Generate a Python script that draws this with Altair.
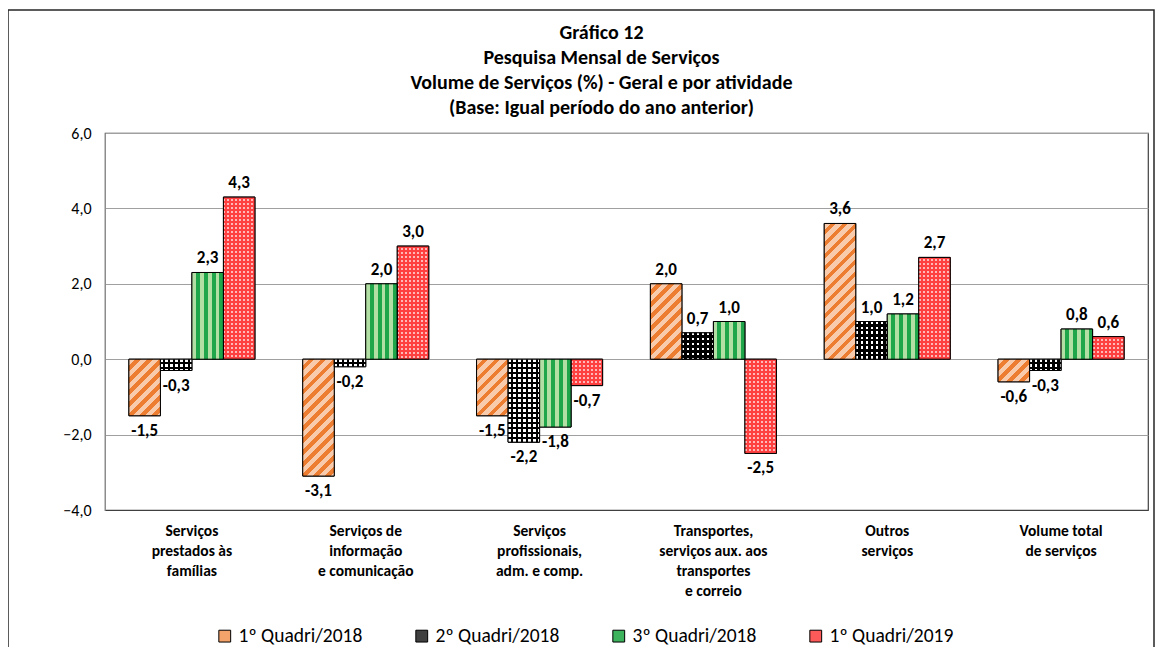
import math
import altair as alt

# ---------------- data ----------------
categories = [
    "Serviços|prestados às|famílias",
    "Serviços de|informação|e comunicação",
    "Serviços|profissionais,|adm. e comp.",
    "Transportes,|serviços aux. aos|transportes|e correio",
    "Outros|serviços",
    "Volume total|de serviços",
]
series = ["1º Quadri/2018", "2º Quadri/2018", "3º Quadri/2018", "1º Quadri/2019"]
v_q1_2018 = [-1.5, -3.1, -1.5, 2.0, 3.6, -0.6]
v_q2_2018 = [-0.3, -0.2, -2.2, 0.7, 1.0, -0.3]
v_q3_2018 = [2.3, 2.0, -1.8, 1.0, 1.2, 0.8]
v_q1_2019 = [4.3, 3.0, -0.7, -2.5, 2.7, 0.6]
y_ticks = [-4, -2, 0, 2, 4, 6]
values_by_series = [v_q1_2018, v_q2_2018, v_q3_2018, v_q1_2019]

legend_colors = ["#F4A36A", "#404040", "#3DB35E", "#FF5A5A"]

FONT = "Carlito, Lato, 'Liberation Sans', sans-serif"
PLOT_W, PLOT_H = 1043, 377
PX_PER_UNIT = PLOT_H / 10.0     # used only to size pattern stripes
BAR_W = PLOT_W / 6 * (1 - 0.275) / 4
CLEAR = "rgba(0,0,0,0)"


def stripe_stops(n, c1, c2, frac2):
    stops = []
    k = 0
    while k / n < 1:
        s = k / n
        m = min((k + 1 - frac2) / n, 1.0)
        e = min((k + 1) / n, 1.0)
        stops += [
            {"offset": round(s, 5), "color": c1},
            {"offset": round(m, 5), "color": c1},
            {"offset": round(m, 5), "color": c2},
            {"offset": round(e, 5), "color": c2},
        ]
        k += 1
    return stops


def grad(x2, y2, stops):
    return {"gradient": "linear", "x1": 0, "y1": 0, "x2": x2, "y2": y2, "stops": stops}


def patterns(si, v):
    w = BAR_W
    h = max(abs(v) * PX_PER_UNIT, 1.0)
    if si == 0:   # orange diagonal stripes "/"
        a = w * (w + h) / (w * w + h * h)
        b = h * (w + h) / (w * w + h * h)
        n = (w + h) / math.sqrt(2) / 8.5
        ga = grad(a, b, stripe_stops(n, "#F8CBAD", "#ED7D31", 0.45))
        gb = grad(1, 0, [{"offset": 0, "color": CLEAR}, {"offset": 1, "color": CLEAR}])
    elif si == 1:  # black checker
        ga = grad(0, 1, stripe_stops(h / 5.0, "#FFFFFF", "#000000", 0.5))
        gb = grad(1, 0, stripe_stops(w / 5.0, CLEAR, "#000000", 0.5))
    elif si == 2:  # green vertical stripes
        ga = grad(1, 0, stripe_stops(4, "#B2DFA3", "#1FA64B", 0.5))
        gb = grad(1, 0, [{"offset": 0, "color": CLEAR}, {"offset": 1, "color": CLEAR}])
    else:          # red dotted
        ga = grad(0, 1, stripe_stops(h / 4.0, "#FF4040", "#FFB8B8", 0.5))
        gb = grad(1, 0, stripe_stops(w / 4.0, CLEAR, "#FF4040", 0.5))
    return ga, gb


rows = []
for si, s in enumerate(series):
    for ci, c in enumerate(categories):
        v = values_by_series[si][ci]
        ga, gb = patterns(si, v)
        rows.append({
            "cat": c, "s": s, "v": v,
            "lbl": f"{v:.1f}".replace(".", ","),
            "ga": ga, "gb": gb,
        })

data = alt.Data(values=rows)

x_enc = alt.X(
    "cat:N", sort=categories, title=None,
    scale=alt.Scale(paddingInner=0.275, paddingOuter=0.1375),
    axis=alt.Axis(
        labelExpr="split(datum.label, '|')", labelAngle=0, labelFont=FONT,
        labelFontSize=15.5, labelFontWeight="bold", labelColor="black",
        labelLineHeight=20, labelPadding=13, labelLimit=300,
        ticks=False, domain=True, domainColor="#404040", grid=False,
    ),
)
xo_enc = alt.XOffset("s:N", sort=series,
                     scale=alt.Scale(domain=series, paddingInner=0, paddingOuter=0))
y_enc = alt.Y(
    "v:Q", stack=None, title=None,
    scale=alt.Scale(domain=[-4, 6], nice=False, zero=False),
    axis=alt.Axis(
        values=y_ticks, labelExpr="replace(format(datum.value, '.1f'), '.', ',')",
        labelFont=FONT, labelFontSize=16, labelColor="black", labelPadding=14,
        ticks=False, domain=True, domainColor="#8C8C8C",
        grid=True, gridColor="#A0A0A0", gridWidth=1.2,
    ),
)

base = alt.Chart(data).mark_bar(stroke="black", strokeWidth=1).encode(
    x=x_enc, xOffset=xo_enc, y=y_enc,
    color=alt.Color(
        "s:N", sort=series,
        scale=alt.Scale(domain=series, range=legend_colors),
        legend=alt.Legend(
            title=None, orient="none", legendX=110, legendY=493,
            direction="horizontal", symbolType="square", symbolSize=140,
            symbolStrokeColor="black", symbolStrokeWidth=1,
            labelFont=FONT, labelFontSize=19.5, labelColor="black",
            labelOffset=4, columnPadding=49, labelLimit=300,
        ),
    ),
)

layer_a = alt.Chart(data).mark_bar(strokeWidth=0).encode(
    x=x_enc, xOffset=xo_enc, y=y_enc,
    fill=alt.Fill("ga:N", scale=None, legend=None),
)
layer_b = alt.Chart(data).mark_bar(stroke="black", strokeWidth=1).encode(
    x=x_enc, xOffset=xo_enc, y=y_enc,
    fill=alt.Fill("gb:N", scale=None, legend=None),
)

text_pos = alt.Chart(data).transform_filter("datum.v >= 0").mark_text(
    font=FONT, fontSize=17, fontWeight="bold", color="black",
    baseline="bottom", dy=-5,
).encode(x=x_enc, xOffset=xo_enc, y=y_enc, text="lbl:N")

text_neg = alt.Chart(data).transform_filter("datum.v < 0").mark_text(
    font=FONT, fontSize=17, fontWeight="bold", color="black",
    baseline="top", dy=7,
).encode(x=x_enc, xOffset=xo_enc, y=y_enc, text="lbl:N")

frame = alt.Chart(alt.Data(values=[{"f": 1}])).mark_rect(
    filled=False, stroke="#262626", strokeWidth=1.5
).encode(
    x=alt.value(-97), x2=alt.value(1049), y=alt.value(-123), y2=alt.value(560)
)

chart = alt.layer(frame, base, layer_a, layer_b, text_pos, text_neg).properties(
    width=PLOT_W, height=PLOT_H,
    autosize=alt.AutoSizeParams(type="none"),
    padding={"left": 97, "top": 125, "right": 8, "bottom": 137},
    title=alt.TitleParams(
        text=["Gráfico 12", "Pesquisa Mensal de Serviços",
              "Volume de Serviços (%) - Geral e por atividade",
              "(Base: Igual período do ano anterior)"],
        font=FONT, fontSize=20, fontWeight="bold", color="black",
        lineHeight=25, anchor="middle", dx=-25, offset=-109,
    ),
).configure_view(stroke="#404040", strokeWidth=1.2)

chart.save("out.html", embed_options={"renderer": "svg", "actions": False})
